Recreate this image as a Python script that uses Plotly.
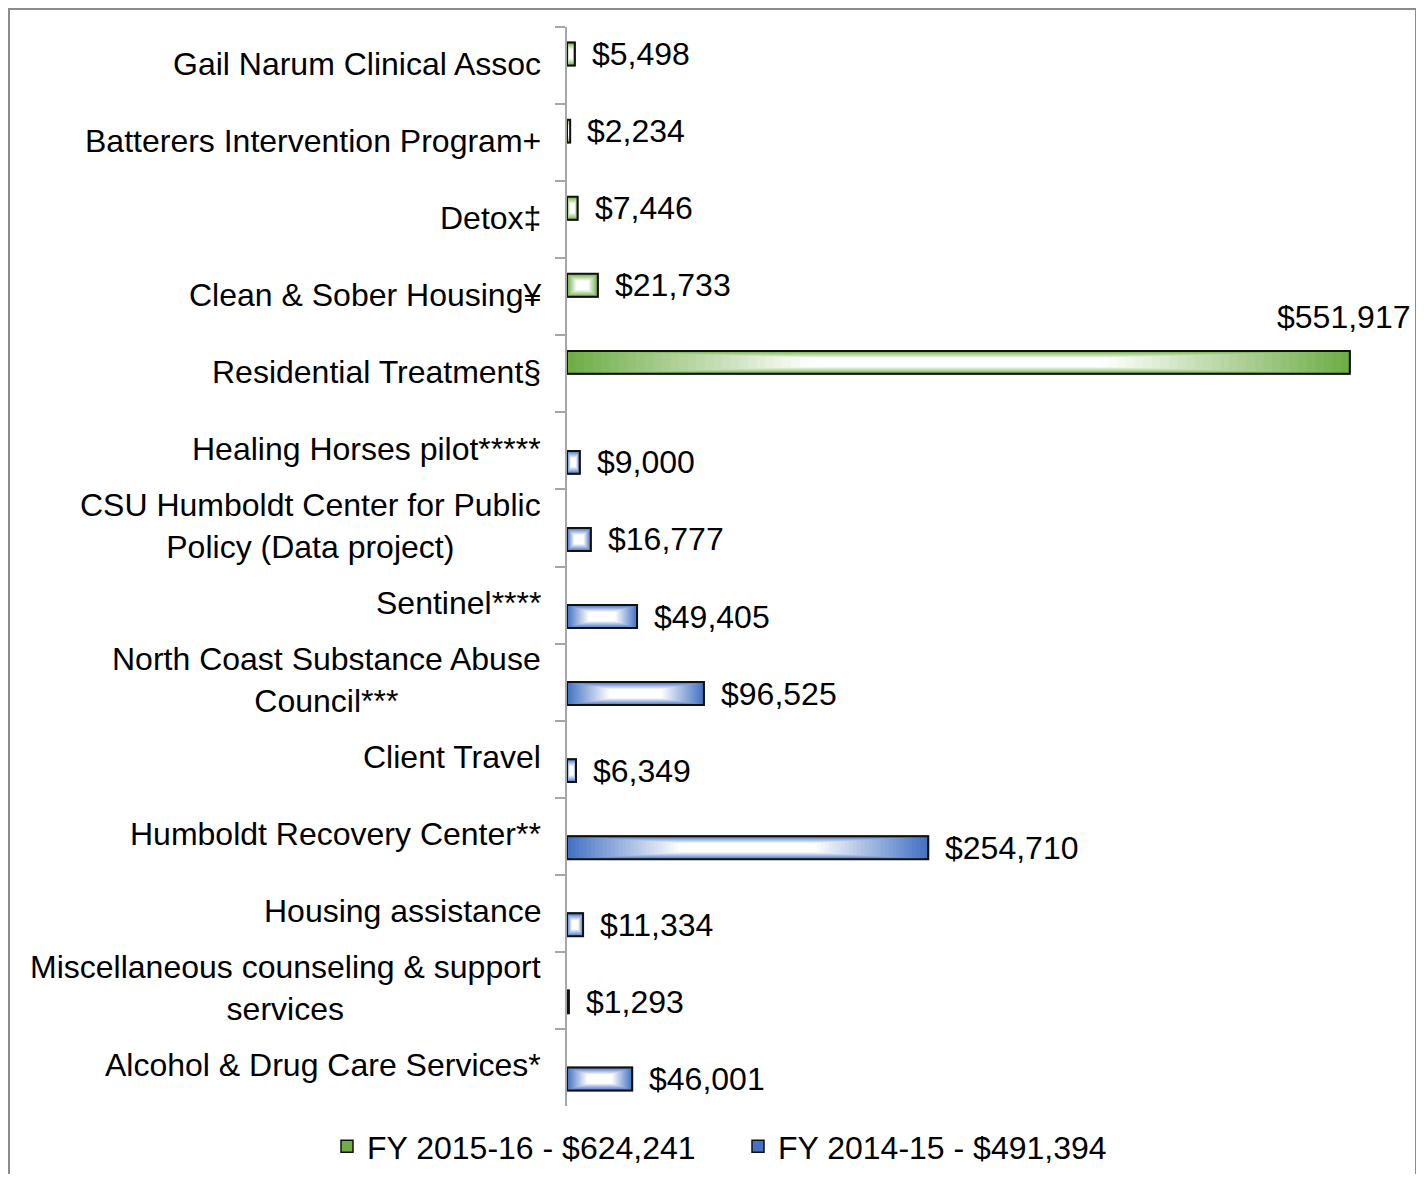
import plotly.graph_objects as go

# ---------------- data ----------------
categories = [
    "Gail Narum Clinical Assoc",
    "Batterers Intervention Program+",
    "Detox‡",
    "Clean & Sober Housing¥",
    "Residential Treatment§",
    "Healing Horses pilot*****",
    "CSU Humboldt Center for Public<br>Policy (Data project)",
    "Sentinel****",
    "North Coast Substance Abuse<br>Council***",
    "Client Travel",
    "Humboldt Recovery Center**",
    "Housing assistance",
    "Miscellaneous counseling & support<br>services",
    "Alcohol & Drug Care Services*",
]
fy_2015_16 = [5498, 2234, 7446, 21733, 551917,
              None, None, None, None, None, None, None, None, None]
fy_2014_15 = [None, None, None, None, None,
              9000, 16777, 49405, 96525, 6349, 254710, 11334, 1293, 46001]
series_names = ["FY 2015-16 - $624,241", "FY 2014-15 - $491,394"]

# ---------------- layout constants (figure sits at page offset 8,8) ----------------
W_PX, H_PX = 1410, 1166
L, R, T, B = 559, 0, 19, 65
PLOT_W = W_PX - L - R
PLOT_H = H_PX - T - B
X_MAX = 600000
FONT = "Liberation Sans, Arial, sans-serif"
FS = 32

BAR_W = 0.2975  # bar thickness in category units
greens = (112, 173, 71)
blues = (68, 114, 196)


def mix(c, t):
    r = int(round(c[0] + (255 - c[0]) * t))
    g = int(round(c[1] + (255 - c[1]) * t))
    b = int(round(c[2] + (255 - c[2]) * t))
    return f"rgb({r},{g},{b})"


fig = go.Figure()

steps = [i * 0.022 for i in range(31)]
series = [
    (series_names[0], fy_2015_16, greens, -BAR_W / 2),
    (series_names[1], fy_2014_15, blues, BAR_W / 2),
]

for name, vals, dark, center in series:
    for k, s in enumerate(steps):
        t = min(1.0, s / 0.62)
        wk = BAR_W * (1 - s)
        fig.add_trace(go.Bar(
            y=categories,
            x=[(v * (1 - s) if v is not None else None) for v in vals],
            base=[(v * s / 2 if v is not None else None) for v in vals],
            orientation="h",
            width=wk,
            offset=center - wk / 2,
            marker=dict(color=mix(dark, t),
                        line=dict(width=1.5 if k == 0 else 0, color="#111111")),
            name=name,
            legendgroup=name,
            showlegend=(k == 0),
            hoverinfo="skip",
        ))
    # outline on top
    fig.add_trace(go.Bar(
        y=categories,
        x=vals,
        orientation="h",
        width=BAR_W,
        offset=center - BAR_W / 2,
        marker=dict(color="rgba(0,0,0,0)", line=dict(width=2, color="#111111")),
        name=name,
        legendgroup=name,
        showlegend=False,
        hoverinfo="skip",
    ))

annotations = []
# category labels
for c in categories:
    annotations.append(dict(
        xref="paper", x=0, yref="y", y=c, text=c, showarrow=False,
        xanchor="right", yanchor="middle", align="center", xshift=-24, yshift=2,
        font=dict(family=FONT, size=FS, color="black"),
    ))

# value labels
max_val = max(v for v in fy_2015_16 + fy_2014_15 if v is not None)
for vals, center_shift in ((fy_2015_16, 11.5), (fy_2014_15, -11.5)):
    for c, v in zip(categories, vals):
        if v is None:
            continue
        label = f"${v:,}"
        if v > 0.8 * max_val:
            annotations.append(dict(
                x=v, y=c, xref="x", yref="y", text=label, showarrow=False,
                xanchor="right", yanchor="middle", xshift=62, yshift=57,
                font=dict(family=FONT, size=FS, color="black"),
            ))
        else:
            annotations.append(dict(
                x=v, y=c, xref="x", yref="y", text=label, showarrow=False,
                xanchor="left", yanchor="middle", xshift=15, yshift=center_shift,
                font=dict(family=FONT, size=FS, color="black"),
            ))

fig.update_layout(
    width=W_PX, height=H_PX,
    margin=dict(l=L, r=R, t=T, b=B),
    paper_bgcolor="white", plot_bgcolor="rgba(0,0,0,0)",
    barmode="overlay",
    font=dict(family=FONT, size=FS, color="black"),
    xaxis=dict(range=[0, X_MAX], visible=False, fixedrange=True),
    yaxis=dict(
        type="category", categoryorder="array", categoryarray=categories,
        range=[len(categories) - 0.5, -0.5],
        showticklabels=False, showgrid=False, zeroline=False,
        showline=True, linecolor="#a6a6a6", linewidth=1.5,
        ticks="outside", ticklen=10, tickcolor="#a6a6a6", tickwidth=1.5,
        tickson="boundaries",
    ),
    legend=dict(
        orientation="h",
        x=(319 - L) / PLOT_W, xanchor="left",
        y=(H_PX - B - 1142) / PLOT_H, yanchor="middle",
        font=dict(family=FONT, size=FS, color="black"),
        bgcolor="rgba(0,0,0,0)",
        traceorder="normal",
        entrywidth=366, entrywidthmode="pixels",
    ),
    annotations=annotations,
    shapes=[dict(
        type="rect", xref="paper", yref="paper",
        x0=(1 - L) / PLOT_W, x1=(1408 - L) / PLOT_W,
        y0=(H_PX - B - 1200) / PLOT_H, y1=(H_PX - B - 1) / PLOT_H,
        line=dict(color="#8c8c8c", width=2), fillcolor="rgba(0,0,0,0)",
        layer="above",
    )],
    showlegend=True,
)

fig.write_html("out.html")
